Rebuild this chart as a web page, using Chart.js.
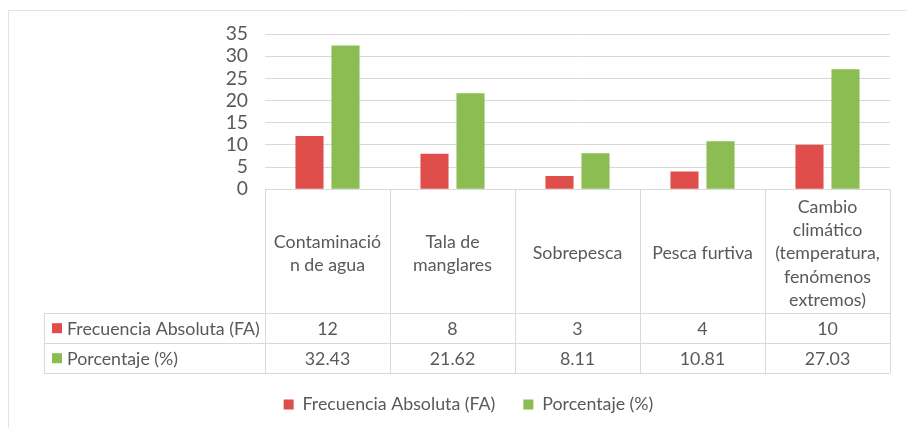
<!DOCTYPE html>
<html><head><meta charset="utf-8">
<script src="https://cdn.jsdelivr.net/npm/chart.js@4.4.1/dist/chart.umd.min.js"></script>
<style>html,body{margin:0;padding:0;background:#fff;overflow:hidden;}#wrap{width:907px;height:428px;position:relative;}</style>
</head><body><div id="wrap"><canvas id="c" width="907" height="428"></canvas></div>
<script>
// ---- data ----
const categories = [["Contaminació","n de agua"],["Tala de","manglares"],["Sobrepesca"],["Pesca furtiva"],["Cambio","climático","(temperatura,","fenómenos","extremos)"]];
const seriesNames = ["Frecuencia Absoluta (FA)","Porcentaje (%)"];
const frecuencia = [12,8,3,4,10];
const porcentaje = [32.43,21.62,8.11,10.81,27.03];
const tableFA = ["12","8","3","4","10"];
const tablePct = ["32.43","21.62","8.11","10.81","27.03"];
const yMin = 0, yMax = 35, yStep = 5;

// ---- styles ----
const RED = '#DF4E4B', GREEN = '#8CBD52', TEXT = '#595959', LINE = '#d9d9d9';
const FAMILY = 'Lato, "Open Sans", sans-serif';
const mctx = document.createElement('canvas').getContext('2d');
mctx.font = '100px ' + FAMILY;
const FS = Math.round(100 * 193 / mctx.measureText(seriesNames[0]).width * 10) / 10;
const font = (s) => s + 'px ' + FAMILY;

const tablePlugin = {
  id: 'tablePlugin',
  beforeDraw(chart) {
    const ctx = chart.ctx;
    ctx.save();
    ctx.fillStyle = '#fff';
    ctx.fillRect(0, 0, chart.width, chart.height);
    ctx.strokeStyle = '#e3e3e3';
    ctx.lineWidth = 1;
    ctx.beginPath();
    ctx.moveTo(8.5, 428); ctx.lineTo(8.5, 10.5); ctx.lineTo(907, 10.5);
    ctx.stroke();
    ctx.restore();
  },
  afterDraw(chart) {
    const ctx = chart.ctx, a = chart.chartArea;
    const n = categories.length;
    const left = a.left, right = a.right, colW = (right - left) / n;
    const top = a.bottom, hb = top + 124, r1 = hb + 30, r2 = r1 + 30;
    const tl = left - 221;
    ctx.save();
    ctx.strokeStyle = LINE; ctx.lineWidth = 1;
    ctx.beginPath();
    for (let i = 0; i <= n; i++) {
      const x = Math.round(left + i * colW) + 0.5;
      ctx.moveTo(x, top); ctx.lineTo(x, r2);
    }
    ctx.moveTo(left, Math.round(top) + 0.5); ctx.lineTo(right, Math.round(top) + 0.5);
    [hb, r1, r2].forEach(y => { ctx.moveTo(tl, Math.round(y) + 0.5); ctx.lineTo(right, Math.round(y) + 0.5); });
    ctx.moveTo(tl + 0.5, hb); ctx.lineTo(tl + 0.5, r2);
    ctx.stroke();
    ctx.font = font(FS); ctx.textBaseline = 'middle';
    const rows = [[RED, seriesNames[0], tableFA, (hb + r1) / 2], [GREEN, seriesNames[1], tablePct, (r1 + r2) / 2]];
    rows.forEach(([col, name, vals, cy]) => {
      ctx.fillStyle = col; ctx.fillRect(tl + 8, cy - 5, 10, 10);
      ctx.fillStyle = TEXT; ctx.textAlign = 'left';
      ctx.fillText(name, tl + 23, cy + 1);
      ctx.textAlign = 'center';
      vals.forEach((v, i) => ctx.fillText(v, left + (i + 0.5) * colW, cy + 1));
    });
    ctx.restore();
  }
};

new Chart(document.getElementById('c'), {
  type: 'bar',
  data: {
    labels: categories,
    datasets: [
      { label: seriesNames[0], data: frecuencia, backgroundColor: RED, categoryPercentage: 0.576, barPercentage: 0.78 },
      { label: seriesNames[1], data: porcentaje, backgroundColor: GREEN, categoryPercentage: 0.576, barPercentage: 0.78 }
    ]
  },
  options: {
    responsive: false, animation: false,
    layout: { padding: { left: 47, right: 17, top: 34, bottom: 4.5 } },
    plugins: {
      tooltip: { enabled: false },
      legend: {
        position: 'bottom',
        labels: { boxWidth: 10, boxHeight: 10, padding: 28, color: TEXT, font: { family: FAMILY, size: FS } }
      }
    },
    scales: {
      x: {
        grid: { display: false }, border: { display: false },
        ticks: { color: TEXT, font: { family: FAMILY, size: FS, lineHeight: 23.2 / FS }, maxRotation: 0, minRotation: 0, autoSkip: false, padding: 10, crossAlign: 'center' },
        afterFit(s) { s.height = 178.5; }
      },
      y: {
        min: yMin, max: yMax,
        grid: { color: LINE, drawTicks: false }, border: { display: false },
        ticks: { stepSize: yStep, autoSkip: false, color: TEXT, font: { family: FAMILY, size: FS + 1.5 }, padding: 17 },
        afterFit(s) { s.width = 218; }
      }
    }
  },
  plugins: [tablePlugin]
});
</script></body></html>
